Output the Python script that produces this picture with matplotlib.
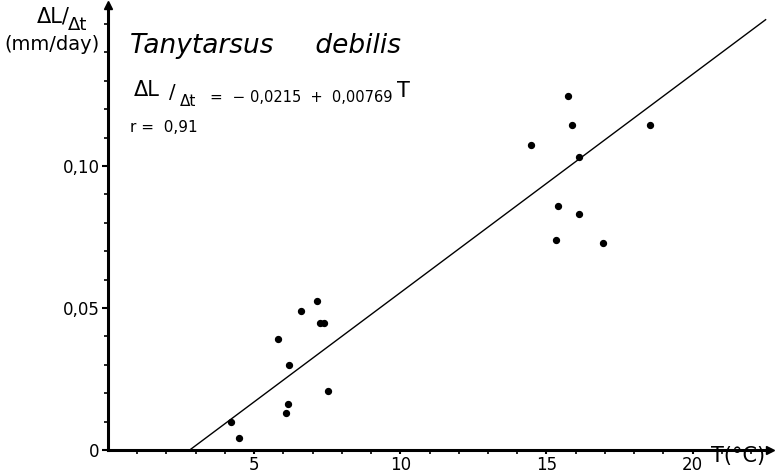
import numpy as np
import matplotlib.pyplot as plt

# 水温 T [°C] と成長速度 ΔL/Δt [mm/day]
temp = [4.20, 4.49, 5.83, 6.20, 6.15, 6.10, 6.61, 7.15, 7.25, 7.40, 7.52,
        15.74, 15.86, 14.46, 16.10, 18.53, 15.41, 16.10, 15.32, 16.95]
rate = [0.0100, 0.0041, 0.0390, 0.0299, 0.0162, 0.0129, 0.0491, 0.0524, 0.0448, 0.0448, 0.0209,
        0.1248, 0.1146, 0.1073, 0.1031, 0.1146, 0.0859, 0.0831, 0.0739, 0.0730]

# 回帰式
a = -0.0215
b = 0.00769
line_T = [2.8, 22.5]

xticks = [5, 10, 15, 20]
xtick_labels = ["5", "10", "15", "20"]
yticks = [0, 0.05, 0.10]
ytick_labels = ["0", "0,05", "0,10"]

plt.rcParams['font.family'] = ['DejaVu Sans']

fig = plt.figure(figsize=(7.76, 4.73), dpi=100)
ax = fig.add_axes([108 / 776, 23 / 473, 662 / 776, 445 / 473])

ax.scatter(temp, rate, s=18, color="black", zorder=3)
lt = np.array(line_T)
ax.plot(lt, a + b * lt, color="black", lw=1.0)

ax.set_xlim(0, 22.65)
ax.set_ylim(0, 0.1567)

# 軸の設定
for s in ["top", "right"]:
    ax.spines[s].set_visible(False)
for s in ["left", "bottom"]:
    ax.spines[s].set_linewidth(2.2)
ax.plot(1, 0, ">k", ms=6, transform=ax.transAxes, clip_on=False)
ax.plot(0, 1, "^k", ms=6, transform=ax.transAxes, clip_on=False)

ax.set_xticks(xticks)
ax.set_xticklabels(xtick_labels, fontsize=12)
ax.set_yticks(yticks)
ax.set_yticklabels(ytick_labels, fontsize=12)
ax.set_xticks(np.arange(1, 23, 1), minor=True)
ax.set_yticks(np.arange(0.01, 0.151, 0.01), minor=True)
ax.tick_params(axis="x", which="major", direction="out", length=3, width=1.5, pad=1)
ax.tick_params(axis="y", which="major", direction="out", length=4, width=1.5, pad=2)
ax.tick_params(axis="both", which="minor", direction="out", length=3, width=1.2)


def put(x, y, s, size, **kw):
    # ピクセル座標 (左上原点) でテキストを置く
    fig.text(x / 776, 1 - y / 473, s, fontsize=size, va="center", **kw)


# 軸ラベル
put(738, 456, "T(°C)", 15, ha="center")
put(70, 17, "ΔL/", 15, ha="right")
put(68, 25, "Δt", 13, ha="left")
put(52, 44, "(mm/day)", 14, ha="center")

# 種名・回帰式
put(130, 46, "Tanytarsus     debilis", 19, ha="left", style="italic")
put(134, 90, "ΔL", 15, ha="left")
put(169, 92, "/", 14, ha="left")
put(180, 101, "Δt", 11, ha="left")
put(210, 97, "=  −", 11, ha="left")
put(393, 97, "0,0215  +  0,00769", 10.5, ha="right")
put(397, 91, "T", 15, ha="left")
put(130, 128, "r =  0,91", 11, ha="left")

fig.savefig("out.png", dpi=100)
